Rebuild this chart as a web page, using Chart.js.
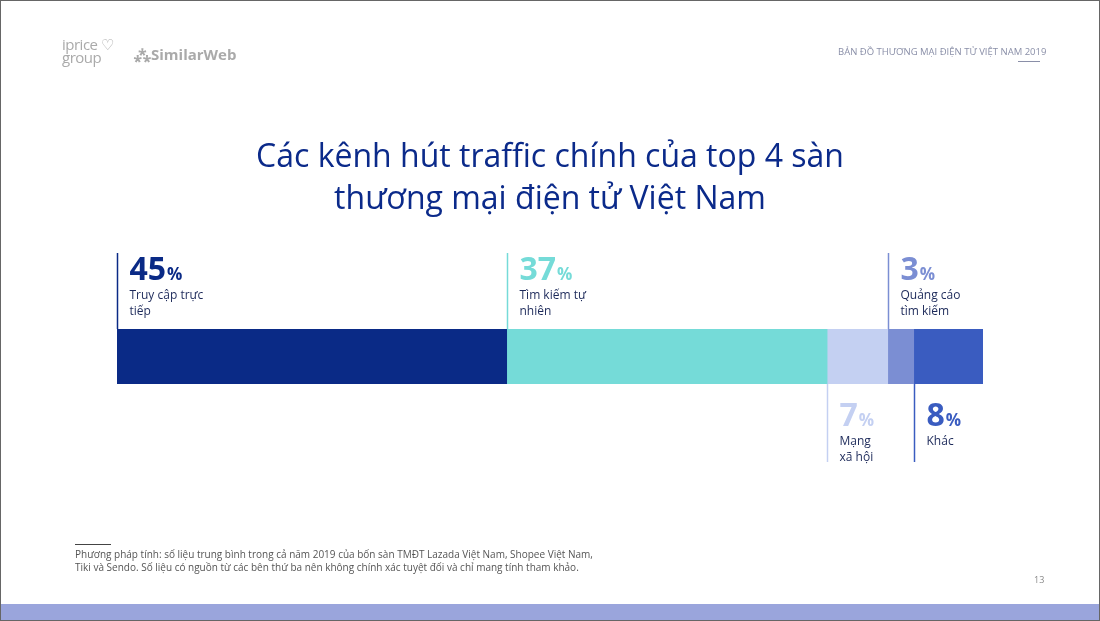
<!DOCTYPE html>
<html><head><meta charset="utf-8">
<script src="https://cdn.jsdelivr.net/npm/chart.js@4"></script>
<style>
body{margin:0;width:1100px;height:621px;overflow:hidden;font-family:"Open Sans",sans-serif;background:#fff;position:relative}
.frame{position:absolute;left:0;top:0;width:1098px;height:619px;border:1px solid #666}
canvas{position:absolute;left:0;top:0}
.t{position:absolute;white-space:nowrap}
</style></head><body>
<div class="frame"></div>
<canvas id="c" width="1100" height="621"></canvas>
<div class="t" style="left:62px;top:38px;color:#aaa;font-size:15px;line-height:13px;letter-spacing:-0.5px">iprice ♡<br>group</div>
<div class="t" style="left:134px;top:44px;color:#aaa;font-size:15px;font-weight:700">⁂SimilarWeb</div>
<div class="t" style="left:838px;top:45px;color:#8a8fa8;font-size:9.5px">BẢN ĐỒ THƯƠNG MẠI ĐIỆN TỬ VIỆT NAM 2019</div>
<div style="position:absolute;left:1018px;top:61px;width:22px;height:1px;background:#8a8fa8"></div>
<div class="t" style="left:0;width:1100px;top:134px;text-align:center;color:#0b2a8a;font-size:32px;line-height:42px">Các kênh hút traffic chính của top 4 sàn<br>thương mại điện tử Việt Nam</div>
<div style="position:absolute;left:75px;top:544px;width:36px;height:1px;background:#444"></div>
<div class="t" style="left:75px;top:548px;color:#555;font-size:10px;line-height:13px">Phương pháp tính: số liệu trung bình trong cả năm 2019 của bốn sàn TMĐT Lazada Việt Nam, Shopee Việt Nam,<br>Tiki và Sendo. Số liệu có nguồn từ các bên thứ ba nên không chính xác tuyệt đối và chỉ mang tính tham khảo.</div>
<div class="t" style="left:1034px;top:573px;color:#888;font-size:9px">13</div>
<div style="position:absolute;left:1px;top:604px;width:1098px;height:16px;background:#9aa5dc"></div>
<script>
const channels = ["Truy cập trực\ntiếp", "Tìm kiếm tự\nnhiên", "Mạng\nxã hội", "Quảng cáo\ntìm kiếm", "Khác"];
const shares = [45, 37, 7, 3, 8];
const colors = ["#0a2a86", "#75dbd8", "#c4d0f2", "#7b8ed3", "#3a5cc0"];
const labelSide = ["top", "top", "bottom", "top", "bottom"];

const labelPlugin = {
  id: "segLabels",
  afterDraw(chart) {
    const ctx = chart.ctx, x = chart.scales.x, a = chart.chartArea;
    let cum = 0;
    shares.forEach((v, i) => {
      const px = Math.round(x.getPixelForValue(cum)) + 0.5;
      cum += v;
      const top = labelSide[i] === "top";
      ctx.save();
      ctx.strokeStyle = colors[i];
      ctx.lineWidth = 1.5;
      ctx.beginPath();
      if (top) { ctx.moveTo(px, 253); ctx.lineTo(px, a.top); }
      else { ctx.moveTo(px, a.bottom); ctx.lineTo(px, 462); }
      ctx.stroke();
      const tx = px + 12, ty = top ? 280 : 426;
      ctx.fillStyle = colors[i];
      ctx.textBaseline = "alphabetic";
      ctx.font = "bold 32px 'Open Sans'";
      const s = String(v);
      ctx.fillText(s, tx, ty);
      const w = ctx.measureText(s).width;
      ctx.font = "bold 17px 'Open Sans'";
      ctx.fillText("%", tx + w + 1, ty);
      ctx.fillStyle = "#1d2a5a";
      ctx.font = "12px 'Open Sans'";
      channels[i].split("\n").forEach((l, k) => ctx.fillText(l, tx, ty + 19 + k * 16));
      ctx.restore();
    });
  }
};

new Chart(document.getElementById("c"), {
  type: "bar",
  data: {
    labels: [""],
    datasets: shares.map((v, i) => ({ label: channels[i], data: [v], backgroundColor: colors[i], barPercentage: 1, categoryPercentage: 1 }))
  },
  options: {
    indexAxis: "y", responsive: false, animation: false,
    layout: { padding: { left: 117, right: 117, top: 329, bottom: 237 } },
    plugins: { legend: { display: false }, tooltip: { enabled: false } },
    scales: {
      x: { stacked: true, display: false, min: 0, max: 100 },
      y: { stacked: true, display: false }
    }
  },
  plugins: [labelPlugin]
});
</script>
</body></html>
